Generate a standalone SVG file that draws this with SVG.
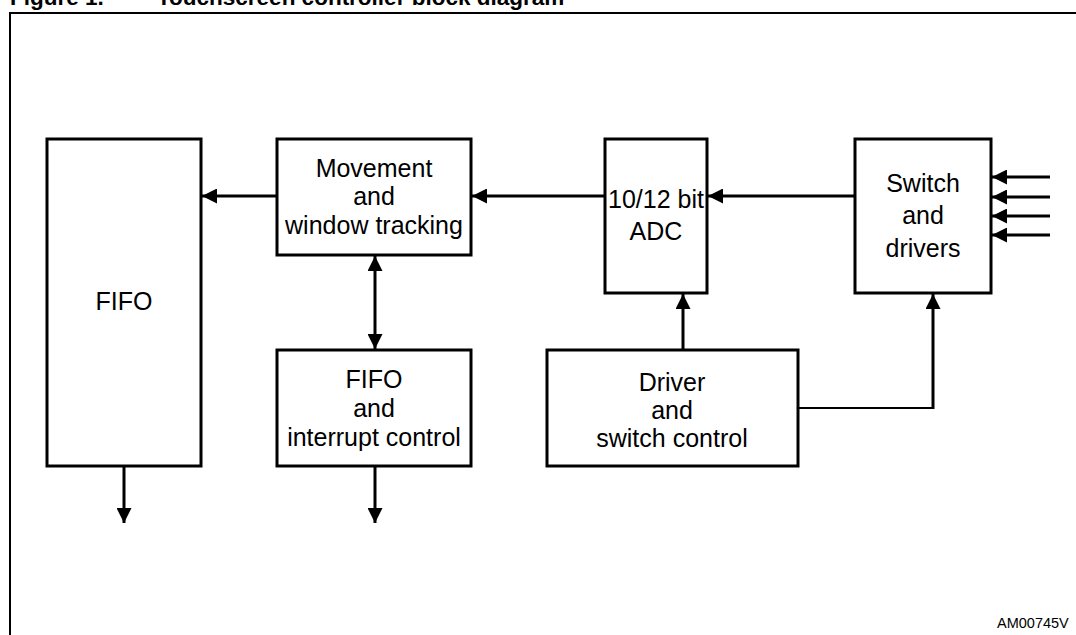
<svg xmlns="http://www.w3.org/2000/svg" width="1076" height="635" viewBox="0 0 1076 635">
<style>
.box{fill:#fff;stroke:#000;stroke-width:3}
.lbl{font-family:"Liberation Sans",Arial,sans-serif;font-size:25px;fill:#000;text-anchor:middle}
.wire{stroke:#000;stroke-width:3;fill:none}
.thin{stroke:#000;stroke-width:1.8;fill:none}
.title{font-family:"Liberation Sans",Arial,sans-serif;font-size:22.5px;font-weight:bold;fill:#000}
</style>
<defs>
<marker id="ah" viewBox="0 0 15 15" refX="15" refY="7.5" markerWidth="15" markerHeight="15" markerUnits="userSpaceOnUse" orient="auto-start-reverse">
<path d="M0,0 L15,7.5 L0,15 Z" fill="#000"/>
</marker>
</defs>
<rect width="1076" height="635" fill="#fff"/>
<text class="title" x="10" y="5">Figure 1.</text>
<text class="title" x="157" y="5">Touchscreen controller block diagram</text>
<rect x="10" y="13" width="1080" height="640" fill="none" stroke="#000" stroke-width="2"/>

<g id="fifo">
<rect class="box" x="47" y="139" width="154" height="327"/>
<text class="lbl" x="124" y="310">FIFO</text>
</g>
<g id="movement">
<rect class="box" x="277" y="139" width="194" height="116"/>
<text class="lbl" x="374" y="177">Movement</text>
<text class="lbl" x="374" y="205">and</text>
<text class="lbl" x="374" y="234">window tracking</text>
</g>
<g id="fifo-int">
<rect class="box" x="277" y="350" width="194" height="116"/>
<text class="lbl" x="374" y="388">FIFO</text>
<text class="lbl" x="374" y="417">and</text>
<text class="lbl" x="374" y="446">interrupt control</text>
</g>
<g id="adc">
<rect class="box" x="605" y="139" width="102" height="154"/>
<text class="lbl" x="656" y="208">10/12 bit</text>
<text class="lbl" x="656" y="240">ADC</text>
</g>
<g id="switch">
<rect class="box" x="855" y="139" width="136" height="154"/>
<text class="lbl" x="923" y="192">Switch</text>
<text class="lbl" x="923" y="224">and</text>
<text class="lbl" x="923" y="257">drivers</text>
</g>
<g id="driver">
<rect class="box" x="547" y="350" width="251" height="116"/>
<text class="lbl" x="672" y="391">Driver</text>
<text class="lbl" x="672" y="419">and</text>
<text class="lbl" x="672" y="447">switch control</text>
</g>

<g id="connectors">
<line class="wire" x1="277" y1="196" x2="202" y2="196" marker-end="url(#ah)"/>
<line class="wire" x1="605" y1="196" x2="472" y2="196" marker-end="url(#ah)"/>
<line class="wire" x1="855" y1="196" x2="708" y2="196" marker-end="url(#ah)"/>
<line class="wire" x1="375" y1="256" x2="375" y2="349" marker-start="url(#ah)" marker-end="url(#ah)"/>
<line class="wire" x1="683" y1="350" x2="683" y2="294" marker-end="url(#ah)"/>
<polyline class="thin" points="798,408 933,408"/>
<line class="wire" x1="933" y1="409" x2="933" y2="294" marker-end="url(#ah)"/>
<line class="wire" x1="124" y1="466" x2="124" y2="523" marker-end="url(#ah)"/>
<line class="wire" x1="375" y1="466" x2="375" y2="523" marker-end="url(#ah)"/>
<line class="wire" x1="1050" y1="177" x2="992" y2="177" marker-end="url(#ah)"/>
<line class="wire" x1="1050" y1="197" x2="992" y2="197" marker-end="url(#ah)"/>
<line class="wire" x1="1050" y1="216" x2="992" y2="216" marker-end="url(#ah)"/>
<line class="wire" x1="1050" y1="235" x2="992" y2="235" marker-end="url(#ah)"/>
</g>
<text x="997" y="628" font-family="Liberation Sans, Arial, sans-serif" font-size="14.5" fill="#000">AM00745V</text>
</svg>
